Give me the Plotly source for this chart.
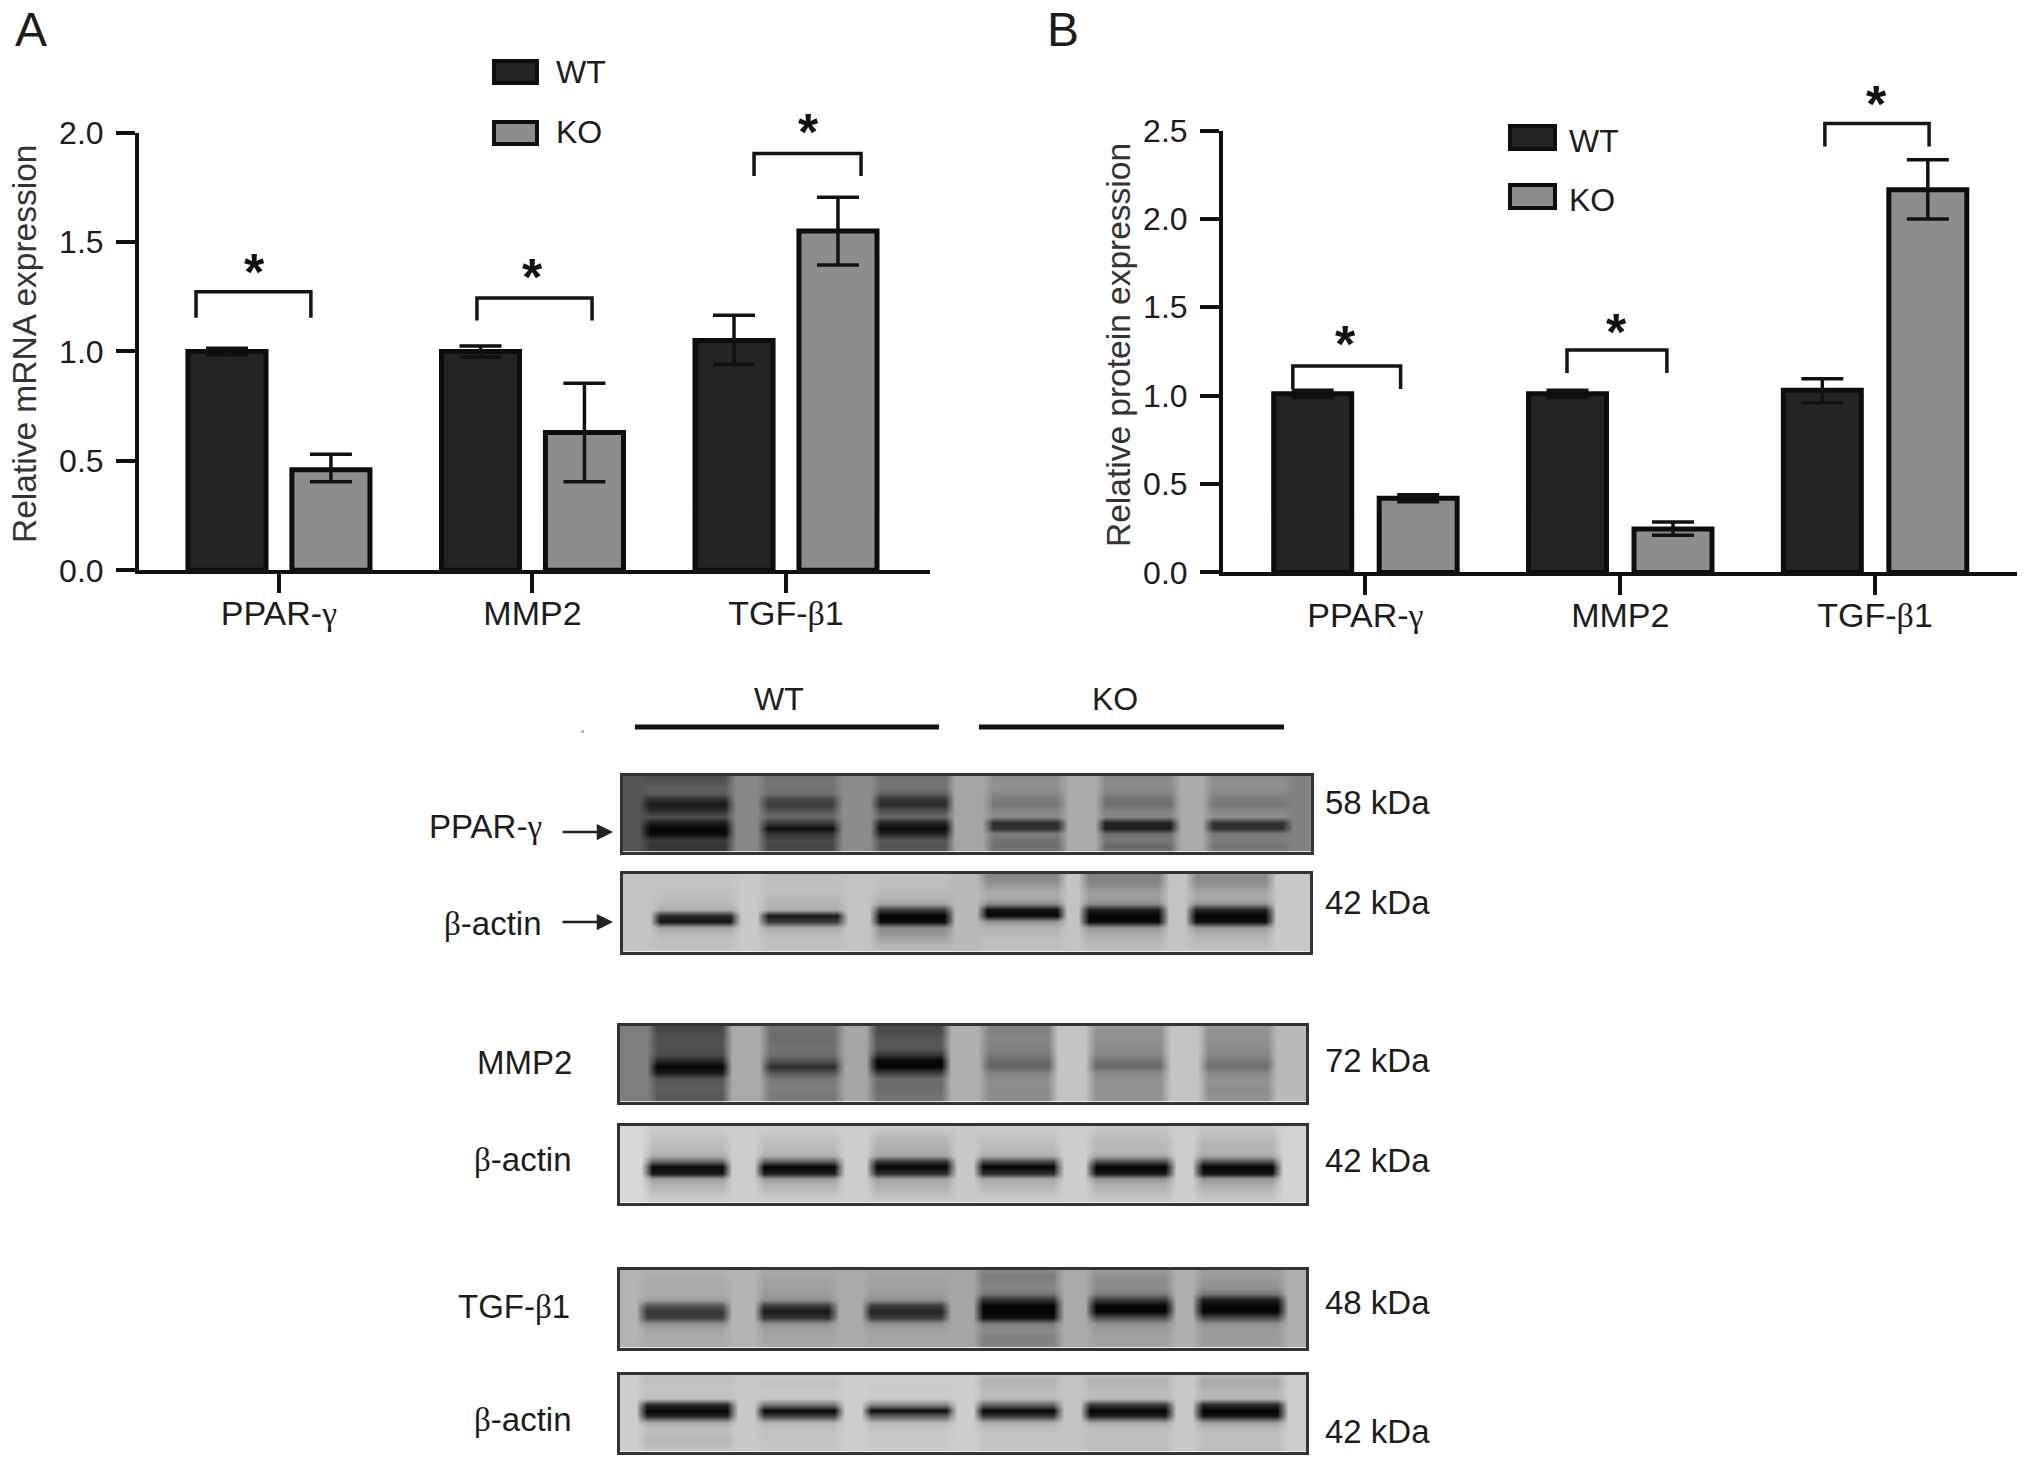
import plotly.graph_objects as go

W, H = 2032, 1467
FONT = "Liberation Sans"
SERIF = "Liberation Serif"
INK = "#1c1c1c"

def gk(ch):
    return f"<span style='font-family:{SERIF}'>{ch}</span>"

# ---- data: bar charts
groups = [0, 1, 2]
group_labels = ["PPAR-" + gk("γ"), "MMP2", "TGF-" + gk("β") + "1"]
mrna_wt = [1.00, 1.00, 1.05]
mrna_ko = [0.46, 0.63, 1.55]
mrna_wt_err_up = [0.015, 0.025, 0.115]
mrna_wt_err_dn = [0.015, 0.025, 0.110]
mrna_ko_err_up = [0.07, 0.225, 0.155]
mrna_ko_err_dn = [0.055, 0.225, 0.155]
prot_wt = [1.01, 1.01, 1.03]
prot_ko = [0.42, 0.245, 2.165]
prot_wt_err_up = [0.02, 0.02, 0.065]
prot_wt_err_dn = [0.02, 0.02, 0.07]
prot_ko_err_up = [0.02, 0.04, 0.17]
prot_ko_err_dn = [0.02, 0.035, 0.165]

# significance brackets: left, right, top, foot (axis units)
mrna_br_left = [-0.327, 0.781, 1.874]
mrna_br_right = [0.126, 1.235, 2.296]
mrna_br_top = [1.273, 1.244, 1.904]
mrna_br_foot = [1.154, 1.141, 1.802]
mrna_star_x = [-0.095, 1.0, 2.087]
mrna_star_y = [1.404, 1.382, 2.043]
prot_br_left = [-0.285, 0.791, 1.803]
prot_br_right = [0.138, 1.183, 2.212]
prot_br_top = [1.167, 1.258, 2.54]
prot_br_foot = [1.037, 1.128, 2.41]
prot_star_x = [-0.08, 0.985, 2.006]
prot_star_y = [1.343, 1.41, 2.70]

# ---- data: blots (gray level read at each height, per lane, and in the gaps)
blot_rows = [20, 38, 57, 75, 93, 112, 130, 148, 167, 185, 203, 222, 240, 258]

ppar_lanes = [(60, 255), (315, 500), (570, 755), (825, 1005), (1075, 1250), (1320, 1500)]
ppar_gaps = [85, 135, 140, 165, 170, 170, 130]
ppar_gray = [
    [75, 85, 95, 90, 50, 25, 45, 80, 30, 5, 10, 60, 55, 60],
    [110, 115, 115, 110, 75, 60, 85, 105, 60, 10, 50, 75, 70, 75],
    [110, 115, 115, 95, 55, 45, 80, 105, 35, 8, 35, 90, 85, 90],
    [140, 145, 145, 135, 125, 120, 135, 140, 45, 50, 125, 115, 110, 120],
    [135, 140, 140, 130, 115, 110, 130, 135, 35, 30, 110, 120, 105, 115],
    [140, 145, 145, 135, 125, 120, 135, 145, 50, 50, 120, 125, 115, 125],
]
actin1_lanes = [(80, 275), (322, 510), (565, 755), (805, 1000), (1040, 1232), (1280, 1470)]
actin1_gaps = [195, 200, 195, 185, 195, 195, 200]
actin1_gray = [
    [195, 195, 195, 190, 190, 185, 175, 40, 20, 165, 185, 190, 190, 195],
    [190, 190, 190, 190, 185, 180, 175, 25, 60, 170, 185, 190, 190, 190],
    [195, 190, 190, 185, 180, 165, 60, 5, 10, 140, 150, 165, 180, 190],
    [135, 140, 155, 170, 170, 140, 15, 10, 150, 180, 185, 190, 190, 190],
    [130, 130, 140, 155, 160, 140, 30, 5, 10, 150, 170, 180, 185, 190],
    [140, 140, 150, 165, 170, 145, 35, 5, 15, 155, 175, 185, 190, 190],
]
mmp2_lanes = [(75, 255), (325, 505), (575, 750), (820, 995), (1065, 1245), (1310, 1485)]
mmp2_gaps = [125, 170, 165, 175, 195, 195, 185]
mmp2_gray = [
    [70, 75, 80, 80, 80, 75, 40, 5, 25, 85, 90, 95, 90, 90],
    [115, 110, 110, 110, 115, 110, 85, 45, 85, 120, 125, 125, 120, 125],
    [75, 75, 85, 90, 85, 55, 5, 5, 60, 110, 105, 110, 115, 115],
    [135, 130, 135, 130, 130, 120, 105, 100, 130, 140, 145, 140, 140, 140],
    [150, 145, 145, 140, 140, 135, 115, 105, 135, 145, 145, 145, 145, 145],
    [150, 145, 145, 140, 140, 135, 120, 110, 135, 145, 145, 140, 145, 145],
]
actin2_lanes = [(65, 262), (315, 510), (565, 760), (815, 1005), (1057, 1252), (1305, 1498)]
actin2_gaps = [215, 205, 205, 200, 205, 205, 210]
actin2_gray = [
    [205, 200, 195, 190, 185, 175, 100, 10, 25, 155, 180, 190, 200, 205],
    [205, 200, 195, 190, 185, 175, 90, 5, 30, 155, 180, 190, 200, 205],
    [205, 195, 185, 180, 175, 165, 50, 5, 45, 160, 175, 185, 195, 205],
    [205, 200, 195, 190, 185, 175, 70, 5, 45, 165, 180, 190, 200, 205],
    [200, 195, 190, 185, 185, 170, 75, 5, 25, 150, 175, 185, 195, 200],
    [200, 195, 190, 180, 180, 170, 80, 5, 20, 150, 170, 185, 195, 200],
]
tgf_lanes = [(60, 255), (315, 500), (560, 750), (810, 1000), (1058, 1250), (1308, 1500)]
tgf_gaps = [180, 180, 170, 165, 170, 175, 175]
tgf_gray = [
    [175, 175, 170, 170, 170, 160, 85, 55, 65, 145, 165, 170, 170, 170],
    [170, 165, 160, 160, 155, 145, 60, 25, 50, 145, 160, 165, 165, 170],
    [165, 165, 160, 160, 155, 145, 60, 35, 60, 145, 160, 165, 165, 170],
    [135, 125, 130, 135, 120, 50, 5, 5, 15, 125, 140, 130, 130, 135],
    [155, 145, 140, 140, 125, 60, 5, 5, 80, 145, 155, 160, 160, 165],
    [160, 155, 150, 145, 120, 30, 5, 5, 75, 145, 155, 155, 155, 160],
]
actin3_lanes = [(60, 268), (315, 515), (560, 760), (808, 1005), (1055, 1255), (1303, 1502)]
actin3_gaps = [205, 200, 205, 205, 195, 200, 205]
actin3_gray = [
    [195, 190, 195, 195, 190, 40, 5, 30, 170, 190, 190, 185, 190, 195],
    [200, 195, 195, 200, 195, 120, 5, 60, 180, 190, 195, 195, 195, 195],
    [205, 205, 200, 205, 200, 135, 10, 90, 185, 195, 200, 200, 200, 200],
    [190, 180, 185, 190, 185, 100, 5, 50, 175, 190, 195, 195, 195, 195],
    [190, 180, 185, 190, 185, 60, 5, 30, 170, 190, 190, 190, 190, 190],
    [185, 170, 175, 185, 180, 40, 5, 20, 160, 185, 190, 190, 190, 185],
]
blot_sizes = ["58 kDa", "42 kDa", "72 kDa", "42 kDa", "48 kDa", "42 kDa"]
blot_names = ["PPAR-" + gk("γ"), gk("β") + "-actin", "MMP2", gk("β") + "-actin", "TGF-" + gk("β") + "1", gk("β") + "-actin"]

# ---- layout geometry (page pixels)
def px(v):
    return v / W
def py(v):
    return 1 - v / H

fig = go.Figure()
annotations, shapes = [], []

def text(x, y, s, size=32, xanchor="center", angle=0, color=INK, **kw):
    annotations.append(dict(x=px(x), y=py(y), xref="paper", yref="paper", text=s, showarrow=False,
                            font=dict(family=FONT, size=size, color=color), xanchor=xanchor,
                            yanchor="middle", textangle=angle, **kw))

def bar_panel(n, xdom, ydom, xrange, yrange, yticks, wt, ko, wtu, wtd, kou, kod, off, width,
              bl, br, bt, bf, sx, sy, top_px, over_id):
    ax = "" if n == 1 else str(n)
    xa, ya = "x" + ax, "y" + ax
    ya_over = "y" + str(over_id)
    for vals, up, dn, sign, fill, name in ((wt, wtu, wtd, -1, "#242424", "WT"), (ko, kou, kod, 1, "#8d8d8d", "KO")):
        fig.add_trace(go.Bar(x=[g + sign * off for g in groups], y=vals, width=width, name=name, xaxis=xa, yaxis=ya,
                             marker=dict(color=fill, line=dict(color="#0d0d0d", width=5)),
                             error_y=dict(type="data", array=up, arrayminus=dn, visible=True,
                                          color="#111111", thickness=3.5, width=21),
                             showlegend=False))
    for l, r, t, f in zip(bl, br, bt, bf):
        fig.add_trace(go.Scatter(x=[l, l, r, r], y=[f, t, t, f], mode="lines", xaxis=xa, yaxis=ya_over,
                                 line=dict(color="#151515", width=3.5), showlegend=False, hoverinfo="skip"))
    for x, y in zip(sx, sy):
        annotations.append(dict(x=x, y=y, xref=xa, yref=ya_over, text="<b>*</b>", showarrow=False, yshift=-9,
                                font=dict(family=FONT, size=52, color="#111111")))
    common = dict(showline=True, linewidth=4, linecolor="#111111", ticks="outside", tickwidth=4, tickcolor="#111111",
                  showgrid=False, zeroline=False)
    fig.layout["xaxis" + ax] = dict(common, domain=[px(xdom[0]), px(xdom[1])], range=xrange, anchor=ya, ticklen=19,
                                    tickmode="array", tickvals=groups, ticktext=group_labels, ticklabelstandoff=-9,
                                    tickfont=dict(family=FONT, size=34, color=INK))
    fig.layout["yaxis" + ax] = dict(common, domain=[py(ydom[1]), py(ydom[0])], range=yrange, anchor=xa, ticklen=19,
                                    tickmode="array", tickvals=yticks, tickformat=".1f", ticklabelstandoff=6,
                                    tickfont=dict(family=FONT, size=32, color=INK))
    # hidden companion scale, same units, taller: carries the brackets and stars that rise above the axis
    unit = (ydom[1] - ydom[0]) / (yrange[1] - yrange[0])
    fig.layout["yaxis" + str(over_id)] = dict(domain=[py(ydom[1]), py(top_px)], range=[0, (ydom[1] - top_px) / unit],
                                              anchor=xa, visible=False)

bar_panel(1, (139, 930), (132.6, 570.3), [-0.552, 2.568], [0, 2.0], [0, .5, 1, 1.5, 2],
          mrna_wt, mrna_ko, mrna_wt_err_up, mrna_wt_err_dn, mrna_ko_err_up, mrna_ko_err_dn, 0.205, 0.308,
          mrna_br_left, mrna_br_right, mrna_br_top, mrna_br_foot, mrna_star_x, mrna_star_y, 40, 9)
bar_panel(2, (1223, 2017), (130.5, 572.4), [-0.559, 2.557], [0, 2.5], [0, .5, 1, 1.5, 2, 2.5],
          prot_wt, prot_ko, prot_wt_err_up, prot_wt_err_dn, prot_ko_err_up, prot_ko_err_dn, 0.207, 0.306,
          prot_br_left, prot_br_right, prot_br_top, prot_br_foot, prot_star_x, prot_star_y, 40, 10)

text(24, 344, "Relative mRNA expression", size=33.5, angle=-90, color="#333333")
text(1118, 345, "Relative protein expression", size=33.5, angle=-90, color="#333333")
text(13, 30, "A", size=48, xanchor="left")
text(1045, 30, "B", size=48, xanchor="left")

# legends
for x0, x1, y0, y1, fill, label, tx, ty in (
    (494, 537, 61, 83, "#242424", "WT", 554, 72),
    (494, 537, 122, 144, "#8d8d8d", "KO", 554, 132),
    (1510, 1555, 126, 149, "#242424", "WT", 1567, 141),
    (1510, 1555, 185, 208, "#8d8d8d", "KO", 1567, 200),
):
    shapes.append(dict(type="rect", xref="paper", yref="paper", x0=px(x0), x1=px(x1), y0=py(y0), y1=py(y1),
                       fillcolor=fill, line=dict(color="#0d0d0d", width=4)))
    text(tx, ty, label, xanchor="left")

# blots
blots = [
    (ppar_lanes, ppar_gaps, ppar_gray, (620, 1314), (773, 854), 802, 826, 544),
    (actin1_lanes, actin1_gaps, actin1_gray, (620, 1313), (871, 954), 902, 923, 544),
    (mmp2_lanes, mmp2_gaps, mmp2_gray, (617, 1309), (1023, 1104), 1060, 1062, 574),
    (actin2_lanes, actin2_gaps, actin2_gray, (617, 1309), (1123, 1205), 1160, 1159, 574),
    (tgf_lanes, tgf_gaps, tgf_gray, (617, 1309), (1267, 1350), 1302, 1306, 572),
    (actin3_lanes, actin3_gaps, actin3_gray, (617, 1309), (1372, 1454), 1431, 1419, 574),
]
columns = list(range(12, 1553, 12))
for i, (lanes, gaps, gray, xd, yd, size_y, name_y, name_r) in enumerate(blots):
    ax = str(i + 3)
    cols = []
    for c in columns:
        g = sum(1 for a, b in lanes if c > b)
        gap = [gaps[g]] * len(blot_rows)
        level = gap
        for k, (a, b) in enumerate(lanes):
            if a <= c <= b:
                # the outermost column of a lane is half way to the gap, so lanes fade out
                edge = c < a + 12 or c > b - 12
                level = [(v + gaps[k + (c > (a + b) / 2)]) / 2 for v in gray[k]] if edge else gray[k]
        cols.append(level)
    z = [[cols[j][r] for j in range(len(columns))] for r in range(len(blot_rows))]
    fig.add_trace(go.Heatmap(x=columns, y=blot_rows, z=z, xaxis="x" + ax, yaxis="y" + ax, zmin=0, zmax=255,
                             colorscale=[[0, "#000000"], [1, "#ffffff"]], showscale=False, zsmooth="best",
                             hoverinfo="skip"))
    frame = dict(showline=True, mirror=True, linewidth=3, linecolor="#333333", showticklabels=False, ticks="",
                 showgrid=False, zeroline=False)
    fig.layout["xaxis" + ax] = dict(frame, domain=[px(xd[0] + 3), px(xd[1] - 3)], range=[12, 1552], anchor="y" + ax)
    fig.layout["yaxis" + ax] = dict(frame, domain=[py(yd[1] - 2.5), py(yd[0] + 2.5)], range=[258, 20], anchor="x" + ax)
    text(1323, size_y, blot_sizes[i], size=33, xanchor="left")
    text(name_r, name_y, blot_names[i], size=33, xanchor="right")

# WT / KO group rules above the blots
text(779, 699, "WT")
text(1115, 699, "KO")
for x0, x1 in ((635, 939), (979, 1284)):
    shapes.append(dict(type="line", xref="paper", yref="paper", x0=px(x0), x1=px(x1), y0=py(727), y1=py(727),
                       line=dict(color="#111111", width=5)))
shapes.append(dict(type="circle", xref="paper", yref="paper", x0=px(581), x1=px(584), y0=py(730), y1=py(733),
                   fillcolor="#aaaaaa", line=dict(width=0)))

# arrows pointing at the PPAR-γ and β-actin bands
for y in (832, 922):
    annotations.append(dict(x=px(613), y=py(y), xref="paper", yref="paper", ax=-52, ay=0, text="", showarrow=True,
                            arrowhead=2, arrowsize=1.3, arrowwidth=2.5, arrowcolor="#222222"))

fig.update_layout(width=W, height=H, autosize=False, margin=dict(l=0, r=0, t=0, b=0, autoexpand=False), barmode="overlay",
                  paper_bgcolor="white", plot_bgcolor="rgba(0,0,0,0)", annotations=annotations, shapes=shapes,
                  font=dict(family=FONT, color=INK))
fig.write_html("out.html", post_script="document.body.style.margin='0';", config={"displayModeBar": False})
